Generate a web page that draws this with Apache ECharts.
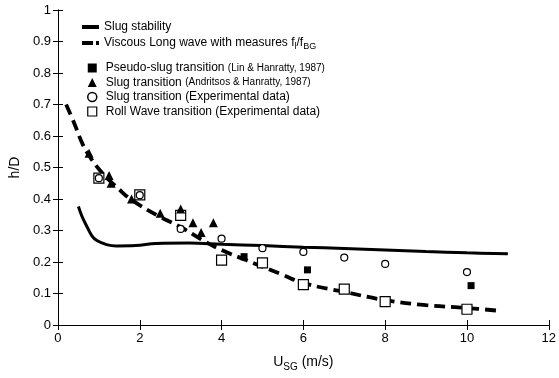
<!DOCTYPE html>
<html><head><meta charset="utf-8">
<script src="https://cdn.jsdelivr.net/npm/echarts@6/dist/echarts.min.js"></script>
<style>html,body{margin:0;padding:0;background:#fff}#c{width:559px;height:378px}</style>
</head><body><div id="c"></div>
<script>
// ---- data ----
const slugStabX = [0.5, 0.59, 0.71, 0.83, 0.95, 1.19, 1.43, 1.9, 2.4, 3.2, 4.0, 5.0, 6.0, 7.0, 8.0, 9.0, 10.0, 11.0];
const slugStabY = [0.376, 0.344, 0.312, 0.283, 0.268, 0.255, 0.251, 0.252, 0.259, 0.26, 0.256, 0.252, 0.247, 0.243, 0.238, 0.233, 0.229, 0.226];

const viscousX = [0.2, 0.4, 0.6, 0.8, 1.1, 1.5, 1.8, 2.5, 3.0, 3.5, 4.0, 4.6, 5.0, 5.5, 6.0, 7.0, 8.0, 9.0, 10.0, 10.8];
const viscousY = [0.70, 0.64, 0.575, 0.53, 0.48, 0.43, 0.397, 0.343, 0.311, 0.272, 0.238, 0.206, 0.185, 0.159, 0.133, 0.105, 0.079, 0.063, 0.054, 0.045];

const pseudoSlugX = [4.55, 6.1, 10.1];
const pseudoSlugY = [0.217, 0.175, 0.125];

const andritsosX = [0.76, 1.25, 1.3, 1.8, 2.5, 3.0, 3.3, 3.5, 3.8];
const andritsosY = [0.545, 0.475, 0.45, 0.40, 0.355, 0.368, 0.325, 0.294, 0.325];

const slugExpX = [1, 2, 3, 4, 5, 6, 7, 8, 10];
const slugExpY = [0.466, 0.412, 0.305, 0.274, 0.244, 0.232, 0.214, 0.194, 0.168];

const rollWaveX = [1, 2, 3, 4, 5, 6, 7, 8, 10];
const rollWaveY = [0.466, 0.413, 0.348, 0.206, 0.197, 0.128, 0.114, 0.074, 0.05];

const xMin = 0, xMax = 12, xStep = 2;
const yMin = 0, yMax = 1, yStep = 0.1;

const N1 = 'Slug stability';
const N2 = 'Viscous Long wave with measures fl/fBG';
const N3 = 'Pseudo-slug transition (Lin & Hanratty, 1987)';
const N4 = 'Slug transition (Andritsos & Hanratty, 1987)';
const N5 = 'Slug transition (Experimental data)';
const N6 = 'Roll Wave transition (Experimental data)';

const legendText = {};
legendText[N1] = '{a|Slug stability}';
legendText[N2] = '{a|Viscous Long wave with measures f}{s|l}{a|/f}{s|BG}';
legendText[N3] = '{a|Pseudo-slug transition }{p|(Lin & Hanratty, 1987)}';
legendText[N4] = '{a|Slug transition }{p|(Andritsos & Hanratty, 1987)}';
legendText[N5] = '{a|Slug transition (Experimental data)}';
legendText[N6] = '{a|Roll Wave transition (Experimental data)}';

const pairs = (xs, ys) => xs.map((x, i) => [x, ys[i]]);
const FF = 'Liberation Sans, Arial, sans-serif';
const rich = {
  a: {fontSize: 12, fontFamily: FF, color: '#000', lineHeight: 16},
  p: {fontSize: 10, fontFamily: FF, color: '#000', lineHeight: 16},
  s: {fontSize: 9, fontFamily: FF, color: '#000', lineHeight: 10, verticalAlign: 'bottom'}
};

const chart = echarts.init(document.getElementById('c'), null, {renderer: 'canvas'});
const axisCommon = {
  axisLine: {show: true, lineStyle: {color: '#000', width: 1}},
  axisTick: {show: true, inside: true, length: 5, lineStyle: {color: '#000'}},
  splitLine: {show: false}
};
const option = {
  animation: false,
  backgroundColor: '#fff',
  grid: {left: 54, right: 4, top: 10, bottom: 53},
  xAxis: [
    Object.assign({}, axisCommon, {
      type: 'value', min: xMin, max: xMax, interval: xStep, position: 'bottom',
      axisLabel: {color: '#000', fontSize: 13, fontFamily: FF, margin: 7},
      name: '{a|U}{s|SG}{a| (m/s)}', nameLocation: 'middle', nameGap: 27,
      nameTextStyle: {rich: {
        a: {fontSize: 14, fontFamily: FF, color: '#000', lineHeight: 20},
        s: {fontSize: 10, fontFamily: FF, color: '#000', lineHeight: 12, verticalAlign: 'bottom'}
      }}
    }),
    Object.assign({}, axisCommon, {
      type: 'value', min: xMin, max: xMax, interval: xStep, position: 'top',
      axisLabel: {show: false}
    })
  ],
  yAxis: [
    Object.assign({}, axisCommon, {
      type: 'value', min: yMin, max: yMax, interval: yStep, position: 'left',
      axisLabel: {color: '#000', fontSize: 13, fontFamily: FF, margin: 7},
      name: 'h/D', nameLocation: 'middle', nameGap: 32,
      nameTextStyle: {color: '#000', fontSize: 14, fontFamily: FF}
    }),
    Object.assign({}, axisCommon, {
      type: 'value', min: yMin, max: yMax, interval: yStep, position: 'right',
      axisLabel: {show: false}
    })
  ],
  legend: [
    {
      left: 82, top: 21, padding: 0, orient: 'vertical', selectedMode: false,
      itemWidth: 17, itemHeight: 4,
      data: [{name: N1, icon: 'rect', itemStyle: {color: '#000'}}],
      formatter: n => legendText[n],
      textStyle: {rich: rich}
    },
    {
      left: 82, top: 37, padding: 0, orient: 'vertical', selectedMode: false,
      itemWidth: 17, itemHeight: 4,
      data: [{name: N2, icon: 'path://M0,0h11v4h-11z M14,0h3v4h-3z', itemStyle: {color: '#000'}}],
      formatter: n => legendText[n],
      textStyle: {rich: rich}
    },
    {
      left: 87, top: 62, padding: 0, orient: 'vertical', selectedMode: false,
      itemWidth: 9, itemHeight: 9, itemGap: 2.5,
      data: [
        {name: N3, icon: 'rect', itemStyle: {color: '#000', borderWidth: 0}},
        {name: N4, icon: 'triangle', itemStyle: {color: '#000', borderWidth: 0}},
        {name: N5, icon: 'circle', itemStyle: {color: '#fff', borderColor: '#000', borderWidth: 1.5}},
        {name: N6, icon: 'rect', itemStyle: {color: '#fff', borderColor: '#000', borderWidth: 1.2}}
      ],
      formatter: n => legendText[n],
      textStyle: {rich: {
        a: Object.assign({}, rich.a, {lineHeight: 12, padding: [0, 0, 0, 4]}),
        p: Object.assign({}, rich.p, {lineHeight: 12})
      }}
    }
  ],
  series: [
    {
      name: N1, type: 'line', data: pairs(slugStabX, slugStabY), smooth: 0.4,
      symbol: 'none', lineStyle: {color: '#000', width: 3}, z: 2
    },
    {
      name: N2, type: 'line', data: pairs(viscousX, viscousY), smooth: 0.4,
      symbol: 'none', lineStyle: {color: '#000', width: 3.8, type: [11, 6]}, z: 2
    },
    {
      name: N6, type: 'scatter', data: pairs(rollWaveX, rollWaveY), symbol: 'rect', symbolSize: 10,
      itemStyle: {color: '#fff', borderColor: '#000', borderWidth: 1.2, opacity: 1}, z: 3
    },
    {
      name: N5, type: 'scatter', data: pairs(slugExpX, slugExpY), symbol: 'circle', symbolSize: 7,
      itemStyle: {color: '#fff', borderColor: '#000', borderWidth: 1.2, opacity: 1}, z: 4
    },
    {
      name: N4, type: 'scatter', data: pairs(andritsosX, andritsosY), symbol: 'triangle', symbolSize: 9,
      itemStyle: {color: '#000', opacity: 1}, z: 5
    },
    {
      name: N3, type: 'scatter', data: pairs(pseudoSlugX, pseudoSlugY), symbol: 'rect', symbolSize: 7,
      itemStyle: {color: '#000', opacity: 1}, z: 5
    }
  ]
};
chart.setOption(option);
</script>
</body></html>
